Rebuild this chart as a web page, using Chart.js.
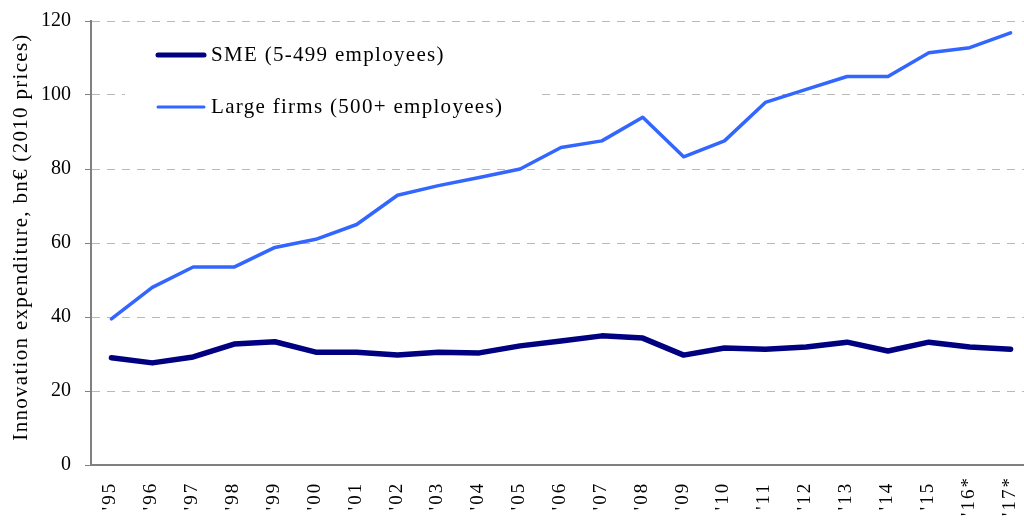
<!DOCTYPE html>
<html><head><meta charset="utf-8">
<script src="https://cdn.jsdelivr.net/npm/chart.js@4"></script>
<style>html,body{margin:0;padding:0;background:#fff;overflow:hidden}#wrap{width:1034px;height:521px}</style>
</head><body><div id="wrap"><canvas id="c"></canvas></div>
<script>
const years = ["'95","'96","'97","'98","'99","'00","'01","'02","'03","'04","'05","'06","'07","'08","'09","'10","'11","'12","'13","'14","'15","'16*","'17*"];
const smeValues = [29,27.6,29.2,32.7,33.3,30.5,30.5,29.7,30.5,30.3,32.2,33.5,34.9,34.3,29.7,31.6,31.3,31.9,33.2,30.8,33.2,31.9,31.3];
const largeValues = [39.5,48,53.5,53.5,58.8,61,65,72.9,75.5,77.7,80,85.8,87.6,94,83.3,87.6,98,101.5,105,105,111.4,112.8,116.8];
const seriesNames = ["SME (5-499 employees)","Large firms (500+ employees)"];
const yTicks = [0,20,40,60,80,100,120];
const yTitle = 'Innovation expenditure, bn€ (2010 prices)';

const FONT = "'Liberation Serif','DejaVu Serif',serif";

const textPlugin = {
  id:'customText',
  afterDatasetsDraw(chart){
    const ctx = chart.ctx;
    ctx.save();
    ctx.fillStyle = '#fff';
    ctx.fillRect(125, 32, 412, 100);
    ctx.font = "21px " + FONT;
    ctx.textBaseline = 'middle';
    const rows = [55, 107];
    chart.data.datasets.forEach((ds,i)=>{
      const y = rows[i];
      ctx.strokeStyle = ds.borderColor;
      ctx.lineWidth = i===0 ? 5 : 3;
      ctx.lineCap = 'round';
      ctx.beginPath(); ctx.moveTo(158,y); ctx.lineTo(204,y); ctx.stroke();
      ctx.fillStyle = '#000';
      ctx.letterSpacing = '1.3px';
      ctx.fillText(ds.label, 211, y);
      ctx.letterSpacing = '0px';
    });
    ctx.restore();
  },
  afterDraw(chart){
    const ctx = chart.ctx;
    const xs = chart.scales.x;
    ctx.save();
    ctx.fillStyle = '#000';
    ctx.font = "19px " + FONT;
    ctx.letterSpacing = '2px';
    ctx.textAlign = 'center';
    ctx.textBaseline = 'middle';
    chart.data.labels.forEach((lab,i)=>{
      const x = xs.getPixelForTick(i) - 1;
      ctx.save();
      ctx.translate(x, 497);
      ctx.rotate(-Math.PI/2);
      ctx.fillText(lab, 1, 0);
      ctx.restore();
    });
    ctx.font = "21px " + FONT;
    ctx.letterSpacing = '1.3px';
    ctx.save();
    ctx.translate(21, 237);
    ctx.rotate(-Math.PI/2);
    ctx.fillText(yTitle, 0, 0);
    ctx.restore();
    ctx.restore();
  }
};

new Chart(document.getElementById('c'), {
  type:'line',
  data:{
    labels: years,
    datasets:[
      {label:seriesNames[0], data:smeValues, borderColor:'#000080', borderWidth:5.5, pointRadius:0, tension:0, borderJoinStyle:'round', borderCapStyle:'round'},
      {label:seriesNames[1], data:largeValues, borderColor:'#3366FF', borderWidth:3.5, pointRadius:0, tension:0, borderJoinStyle:'round', borderCapStyle:'round'}
    ]
  },
  options:{
    responsive:true, maintainAspectRatio:false, animation:false,
    layout:{padding:{top:21,right:3,left:0,bottom:0}},
    plugins:{legend:{display:false}, tooltip:{enabled:false}},
    scales:{
      x:{
        offset:true,
        grid:{display:false, drawTicks:false},
        border:{display:true, color:'#808080', width:2},
        ticks:{display:false},
        afterFit(s){ s.height = 56; s.paddingLeft = 0; s.paddingRight = 0; }
      },
      y:{
        min:0, max:120,
        afterBuildTicks(s){ s.ticks = yTicks.map(v=>({value:v})); },
        grid:{color:(c)=> c.tick && c.tick.value===0 ? 'rgba(0,0,0,0)' : '#b8b8b8', lineWidth:1, drawTicks:true, tickLength:6, tickColor:'#808080'},
        border:{display:true, color:'#808080', width:2, dash:[8,7]},
        ticks:{color:'#000', font:{family:FONT, size:20}, padding:14},
        title:{display:false},
        afterFit(s){ s.width = 91; s.paddingTop = 0; s.paddingBottom = 0; }
      }
    }
  },
  plugins:[textPlugin]
});
</script>
</body></html>
